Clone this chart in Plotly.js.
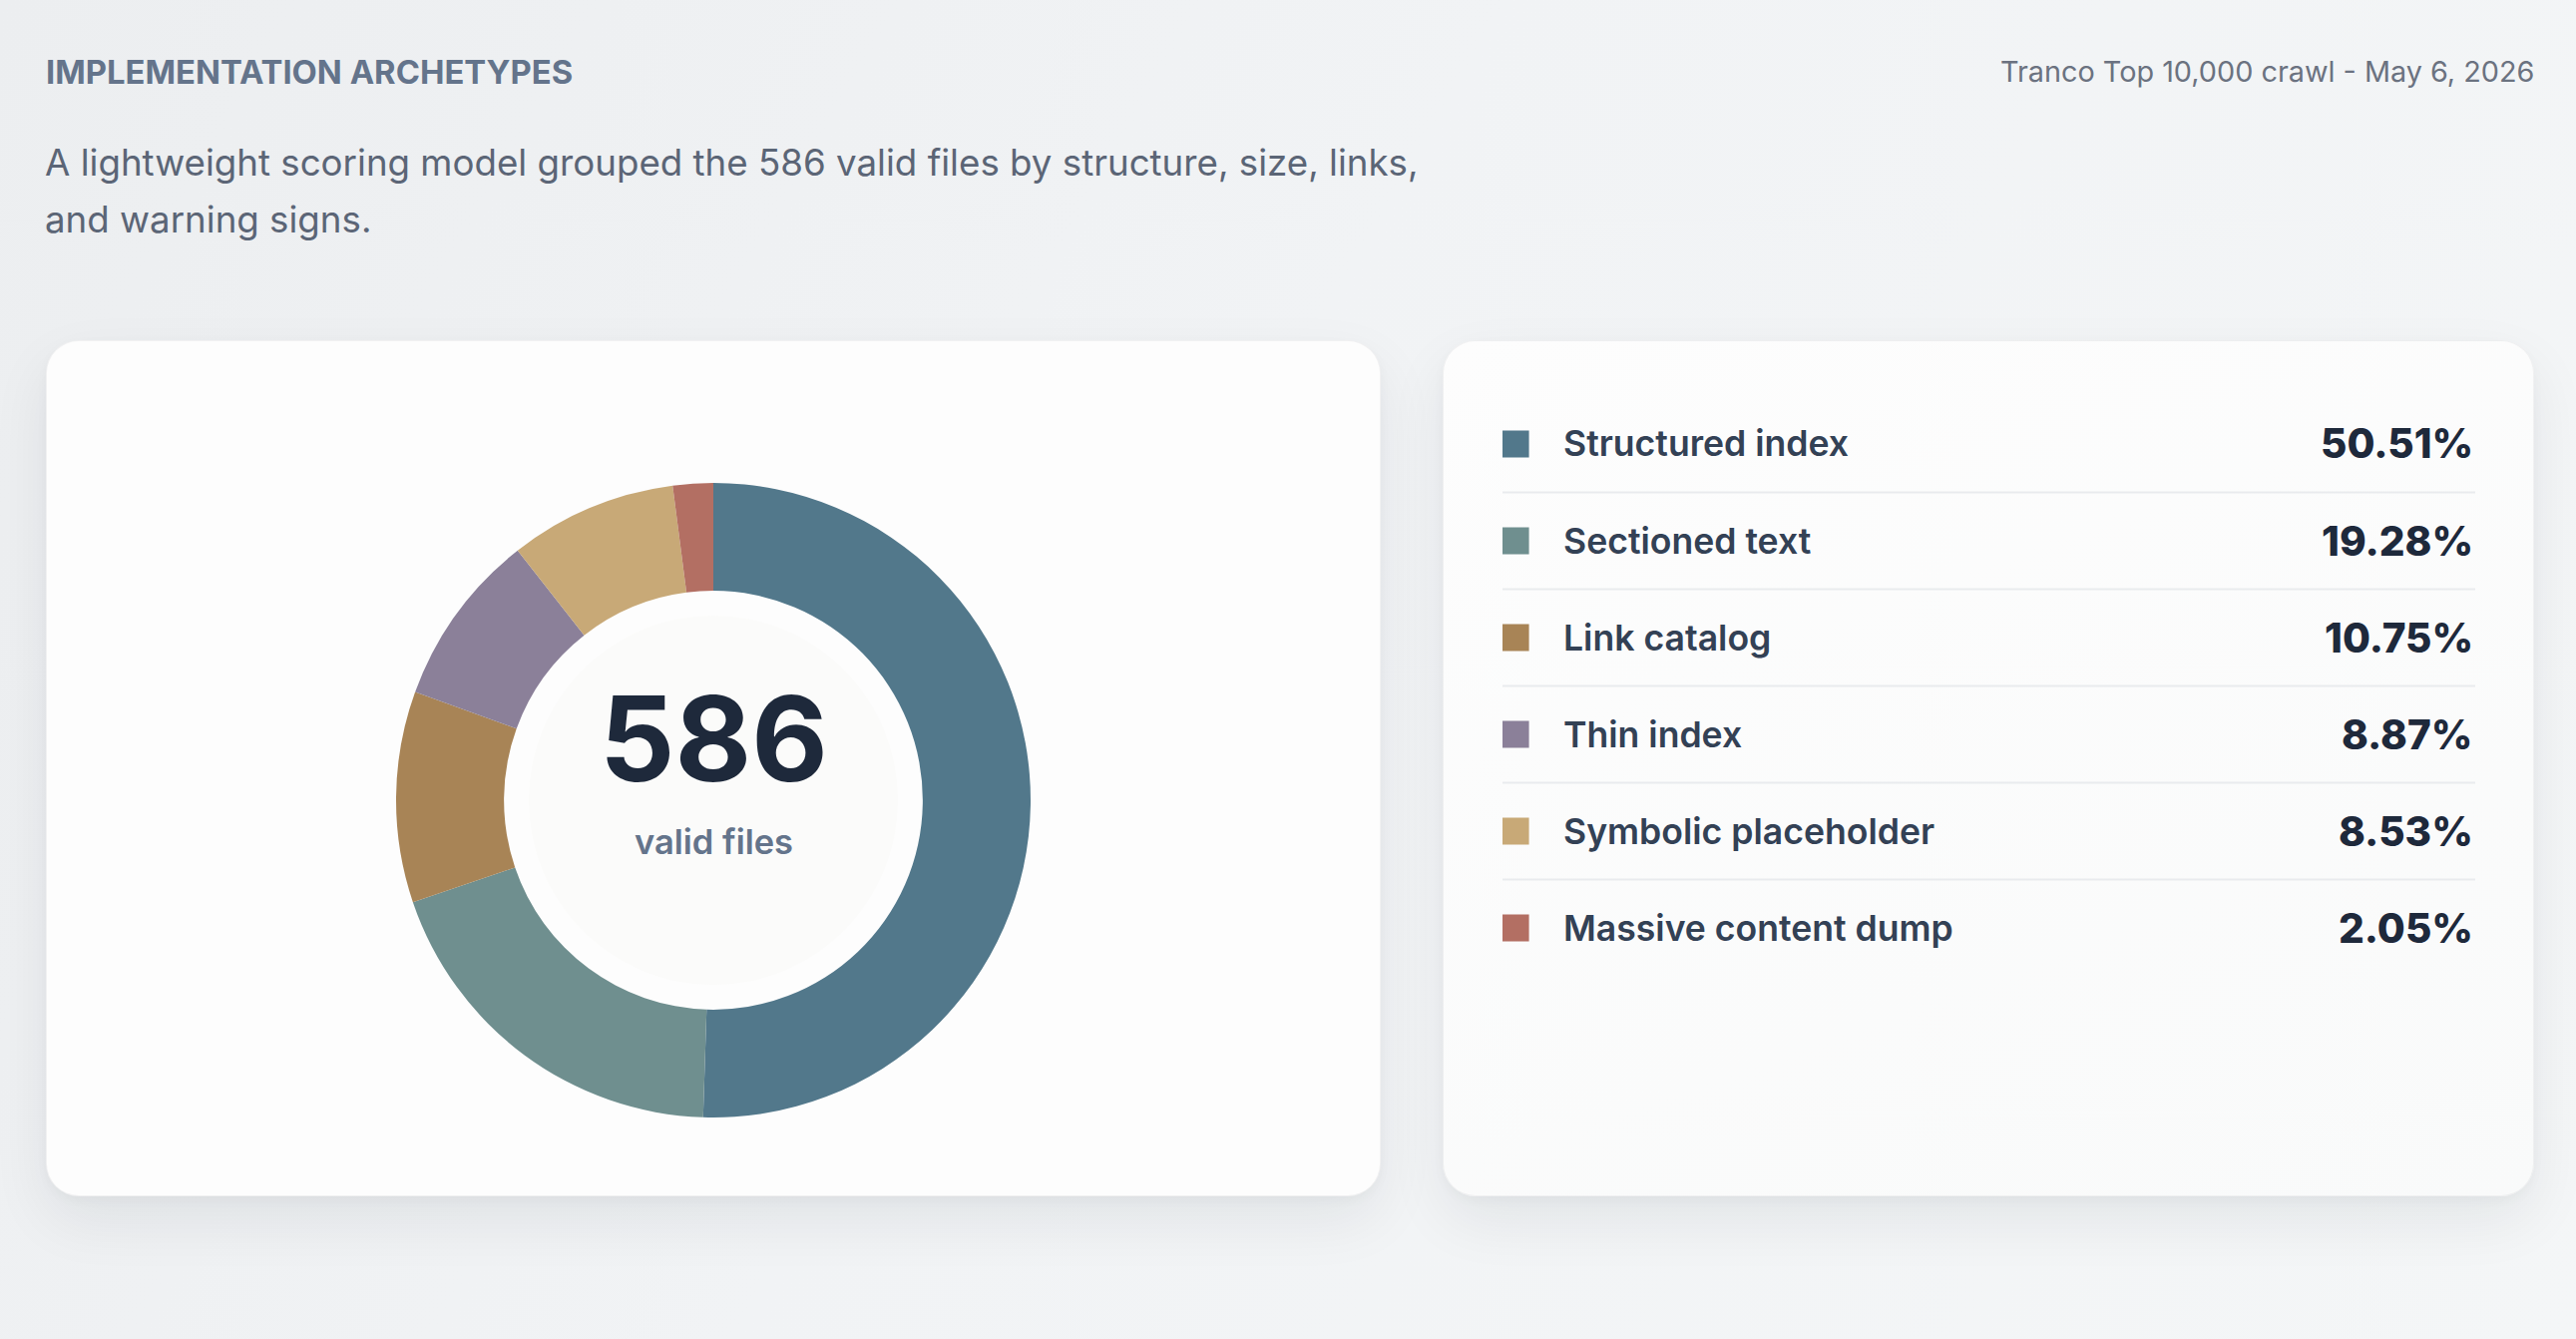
<!DOCTYPE html>
<html>
<head>
<meta charset="utf-8">
<script src="https://cdn.plot.ly/plotly-3.0.1.min.js"></script>
<style>
  html, body { margin: 0; padding: 0; width: 2582px; height: 1342px; overflow: hidden; }
  body { background: linear-gradient(120deg, #eceef0 0%, #f1f3f5 45%, #f4f6f7 100%); font-family: Inter, sans-serif; position: relative; }
  .card { position: absolute; background: #fdfdfd; border-radius: 33px; border: 1px solid rgba(15,23,42,0.05);
          box-shadow: 0 24px 60px rgba(15,23,42,0.07), 0 4px 12px rgba(15,23,42,0.03); }
  #c1 { left: 46px; top: 341px; width: 1336px; height: 856px; }
  #c2 { left: 1446px; top: 341px; width: 1092px; height: 856px; background: linear-gradient(160deg, #fdfdfd, #f9fafa); }
  #chart { position: absolute; left: 0; top: 0; width: 2582px; height: 1342px; }
</style>
</head>
<body>
<div class="card" id="c1"></div>
<div class="card" id="c2"></div>
<div id="chart"></div>
<script>
// ---- data ----
const categories = ["Structured index", "Sectioned text", "Link catalog", "Thin index", "Symbolic placeholder", "Massive content dump"];
const fileCounts = [296, 113, 63, 52, 50, 12];
const sliceColors = ["#52788b", "#6f8f8f", "#a88456", "#8b8099", "#c8a977", "#b36f63"];
const totalLabel = "valid files";
const headerTitle = "IMPLEMENTATION ARCHETYPES";
const headerNote = "Tranco Top 10,000 crawl - May 6, 2026";
const subtitleLines = ["A lightweight scoring model grouped the 586 valid files by structure, size, links,", "and warning signs."];

// ---- layout helpers ----
const W = 2582, H = 1342;
const px = x => x / W;
const py = y => 1 - y / H;
const total = fileCounts.reduce((a, b) => a + b, 0);
const pctText = fileCounts.map(v => (v / total * 100).toFixed(2) + "%");
const rowIdx = categories.map((_, i) => i);

const FONT = "Inter, 'Noto Sans', sans-serif";

const cx = 715, cy = 802, R = 318;

const pie = {
  type: "pie",
  labels: categories,
  values: fileCounts,
  marker: { colors: sliceColors, line: { width: 0 } },
  sort: false,
  direction: "clockwise",
  rotation: 0,
  hole: 0.66,
  textinfo: "none",
  hoverinfo: "none",
  showlegend: false,
  domain: { x: [px(cx - R), px(cx + R)], y: [py(cy + R), py(cy - R)] }
};

const swatches = {
  type: "scatter",
  mode: "markers",
  x: rowIdx.map(() => 0.0134),
  y: rowIdx,
  marker: { symbol: "square", size: 27, color: sliceColors, line: { width: 0 } },
  hoverinfo: "none",
  showlegend: false,
  xaxis: "x", yaxis: "y"
};

const annotations = [];
annotations.push({ xref: "paper", yref: "paper", x: px(44), y: py(72), xanchor: "left", yanchor: "middle",
  text: "<b>" + headerTitle + "</b>", showarrow: false, font: { family: FONT, size: 32.8, color: "#64748b" } });
annotations.push({ xref: "paper", yref: "paper", x: px(2542), y: py(72), xanchor: "right", yanchor: "middle",
  text: headerNote, showarrow: false, font: { family: FONT, size: 28.8, color: "#6b7280" } });
subtitleLines.forEach((t, i) => {
  annotations.push({ xref: "paper", yref: "paper", x: px(43), y: py(163 + i * 56), xanchor: "left", yanchor: "middle",
    text: t, showarrow: false, font: { family: FONT, size: 36.7, color: "#5b6576" } });
});
annotations.push({ xref: "paper", yref: "paper", x: px(cx), y: py(740), xanchor: "center", yanchor: "middle",
  text: "<b>" + total + "</b>", showarrow: false, font: { family: FONT, size: 118, color: "#1e293b", weight: 800 } });
annotations.push({ xref: "paper", yref: "paper", x: px(cx), y: py(843), xanchor: "center", yanchor: "middle",
  text: totalLabel, showarrow: false, font: { family: FONT, size: 34.5, color: "#64748b", weight: 600 } });

categories.forEach((c, i) => {
  annotations.push({ xref: "x", yref: "y", x: 0.0608, y: i, xanchor: "left", yanchor: "middle",
    text: c, showarrow: false, font: { family: FONT, size: 35.6, color: "#334155", weight: 600 } });
  annotations.push({ xref: "x", yref: "y", x: 1, y: i, xanchor: "right", yanchor: "middle",
    text: pctText[i], showarrow: false, font: { family: FONT, size: 40.5, color: "#1e293b", weight: 800 } });
});

const shapes = [];
// faint inner disc in the hole
shapes.push({ type: "circle", xref: "paper", yref: "paper", layer: "above",
  x0: px(cx - 185), x1: px(cx + 185), y0: py(cy + 185), y1: py(cy - 185),
  fillcolor: "rgba(242,238,232,0.12)", line: { width: 0 } });
for (let i = 0; i < categories.length - 1; i++) {
  shapes.push({ type: "line", xref: "x", yref: "y", x0: 0, x1: 1, y0: i + 0.5, y1: i + 0.5,
    line: { color: "#e9ebee", width: 2 }, layer: "below" });
}

const layout = {
  width: W, height: H,
  margin: { l: 0, r: 0, t: 0, b: 0 },
  paper_bgcolor: "rgba(0,0,0,0)",
  plot_bgcolor: "rgba(0,0,0,0)",
  xaxis: { domain: [px(1506), px(2481)], range: [0, 1], visible: false, fixedrange: true },
  yaxis: { domain: [py(978.5), py(396.5)], range: [5.5, -0.5], visible: false, fixedrange: true },
  annotations: annotations,
  shapes: shapes,
  font: { family: FONT }
};

Plotly.newPlot("chart", [pie, swatches], layout, { staticPlot: true, displayModeBar: false });
</script>
</body>
</html>
